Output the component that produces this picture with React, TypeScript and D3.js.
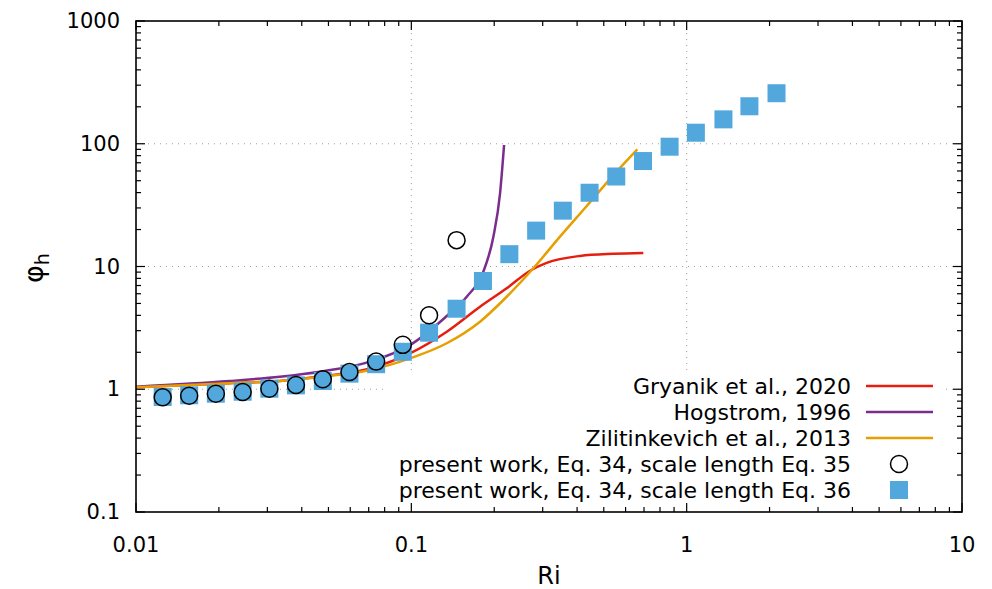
import React from "react";
import * as d3 from "d3";

// values
const riSquares = [0.0125, 0.0156, 0.0195, 0.0244, 0.0305, 0.0381, 0.0477, 0.0596, 0.0745, 0.0931, 0.116, 0.146, 0.182, 0.227, 0.284, 0.355, 0.444, 0.555, 0.694, 0.867, 1.08, 1.36, 1.69, 2.12];
const phiSquares = [0.865, 0.893, 0.92, 0.955, 1.01, 1.076, 1.167, 1.34, 1.6, 2.02, 2.89, 4.53, 7.62, 12.6, 19.6, 28.5, 39.9, 54.1, 72.3, 94.6, 123, 158, 202, 258];

const riCircles = [0.0125, 0.0156, 0.0195, 0.0244, 0.0305, 0.0381, 0.0477, 0.0596, 0.0745, 0.0931, 0.116, 0.146];
const phiCircles = [0.86, 0.886, 0.92, 0.95, 1.01, 1.084, 1.205, 1.38, 1.68, 2.3, 4.01, 16.4];

const gryanikRi = [0.01, 0.0219, 0.0333, 0.0466, 0.0708, 0.0989, 0.1345, 0.1776, 0.222, 0.27, 0.31, 0.41, 0.542, 0.696];
const gryanikPhi = [1.04, 1.12, 1.17, 1.27, 1.48, 1.96, 2.94, 4.7, 6.64, 9.24, 10.7, 12.2, 12.7, 12.9];

const hogstromRi = [0.01, 0.0219, 0.0333, 0.0466, 0.0708, 0.0989, 0.1345, 0.1589, 0.1826, 0.1986, 0.21, 0.2172];
const hogstromPhi = [1.05, 1.167, 1.265, 1.39, 1.68, 2.29, 3.95, 5.67, 9.07, 17.5, 39.5, 97.7];

const zilitRi = [0.01, 0.0219, 0.0333, 0.0466, 0.0708, 0.1, 0.1345, 0.1776, 0.222, 0.2774, 0.3467, 0.4335, 0.542, 0.662];
const zilitPhi = [1.04, 1.12, 1.17, 1.26, 1.435, 1.8, 2.37, 3.55, 5.67, 9.67, 17.5, 31.1, 55.6, 90.1];

const xTickLabels = ["0.01", "0.1", "1", "10"];
const yTickLabels = ["0.1", "1", "10", "100", "1000"];

const legendLabels = [
  "Gryanik et al., 2020",
  "Hogstrom, 1996",
  "Zilitinkevich et al., 2013",
  "present work, Eq. 34, scale length Eq. 35",
  "present work, Eq. 34, scale length Eq. 36",
];

const W = 992;
const H = 589;
const left = 136, right = 962, top = 21, bottom = 512;
const font = "DejaVu Sans, sans-serif";
const RED = "#e51e10";
const PURPLE = "#7b2d8e";
const ORANGE = "#e69f00";
const BLUE = "#52a8dc";

export default function App() {
  const x = d3.scaleLog().domain([0.01, 10]).range([left, right]);
  const y = d3.scaleLog().domain([0.1, 1000]).range([bottom, top]);

  const isMajor = (v: number) => Math.abs(Math.log10(v) - Math.round(Math.log10(v))) < 1e-6;
  const xTicks = x.ticks();
  const yTicks = y.ticks();

  const line = d3
    .line<[number, number]>()
    .x((d) => x(d[0]))
    .y((d) => y(d[1]))
    .curve(d3.curveMonotoneX);

  const zip = (a: number[], b: number[]) => a.map((v, i) => [v, b[i]] as [number, number]);

  const curves = [
    { ri: gryanikRi, phi: gryanikPhi, color: RED },
    { ri: hogstromRi, phi: hogstromPhi, color: PURPLE },
    { ri: zilitRi, phi: zilitPhi, color: ORANGE },
  ];

  const sq = 18;
  const legX = 851;
  const legY0 = 386;
  const legDy = 26;

  return (
    <div style={{ position: "absolute", left: 0, top: 0 }}>
      <svg width={W} height={H} style={{ display: "block", background: "#fff" }}>
        {/* grid */}
        <g stroke="#a0a0a0" strokeWidth={1} strokeDasharray="1,5">
          {xTicks.filter(isMajor).filter((v) => v > 0.01 && v < 10).map((v, i) => (
            <line key={"gx" + i} x1={x(v)} x2={x(v)} y1={top} y2={bottom} />
          ))}
          {yTicks.filter(isMajor).filter((v) => v > 0.1 && v < 1000).map((v, i) => (
            <line key={"gy" + i} x1={left} x2={right} y1={y(v)} y2={y(v)} />
          ))}
        </g>
        {/* opaque key */}
        <rect x={388} y={373} width={557} height={130} fill="#fff" />

        {curves.map((c, i) => (
          <path key={"c" + i} d={line(zip(c.ri, c.phi)) || ""} fill="none" stroke={c.color} strokeWidth={2.5} />
        ))}

        {riSquares.map((r, i) => (
          <rect key={"s" + i} x={x(r) - sq / 2} y={y(phiSquares[i]) - sq / 2} width={sq} height={sq} fill={BLUE} />
        ))}
        {riCircles.map((r, i) => (
          <circle key={"o" + i} cx={x(r)} cy={y(phiCircles[i])} r={8.5} fill="none" stroke="#000" strokeWidth={1.5} />
        ))}

        {/* legend */}
        <g fontFamily={font} fontSize={22} fill="#000">
          {legendLabels.map((t, i) => (
            <text key={"l" + i} x={legX} y={legY0 + i * legDy} textAnchor="end" dominantBaseline="central">
              {t}
            </text>
          ))}
        </g>
        {curves.map((c, i) => (
          <line key={"ll" + i} x1={866} x2={933} y1={legY0 + i * legDy} y2={legY0 + i * legDy} stroke={c.color} strokeWidth={2.5} />
        ))}
        <circle cx={899} cy={legY0 + 3 * legDy} r={8.5} fill="none" stroke="#000" strokeWidth={1.5} />
        <rect x={899 - sq / 2} y={legY0 + 4 * legDy - sq / 2} width={sq} height={sq} fill={BLUE} />

        {/* ticks */}
        <g stroke="#000" strokeWidth={1.2}>
          {xTicks.map((v, i) => {
            const len = isMajor(v) ? 9 : 5;
            return (
              <g key={"tx" + i}>
                <line x1={x(v)} x2={x(v)} y1={bottom} y2={bottom - len} />
                <line x1={x(v)} x2={x(v)} y1={top} y2={top + len} />
              </g>
            );
          })}
          {yTicks.map((v, i) => {
            const len = isMajor(v) ? 9 : 5;
            return (
              <g key={"ty" + i}>
                <line x1={left} x2={left + len} y1={y(v)} y2={y(v)} />
                <line x1={right} x2={right - len} y1={y(v)} y2={y(v)} />
              </g>
            );
          })}
        </g>
        <rect x={left} y={top} width={right - left} height={bottom - top} fill="none" stroke="#000" strokeWidth={1.6} />

        {/* tick labels */}
        <g fontFamily={font} fontSize={21} fill="#000">
          {xTickLabels.map((t) => (
            <text key={"xl" + t} x={x(+t)} y={545} textAnchor="middle" dominantBaseline="central">
              {t}
            </text>
          ))}
          {yTickLabels.map((t) => (
            <text key={"yl" + t} x={120} y={y(+t)} textAnchor="end" dominantBaseline="central">
              {t}
            </text>
          ))}
        </g>

        {/* axis titles */}
        <text x={549} y={584} fontFamily={font} fontSize={24} textAnchor="middle">
          Ri
        </text>
        <text transform="translate(43,268) rotate(-90)" fontFamily={font} fontSize={27} textAnchor="middle">
          <tspan>φ</tspan>
          <tspan fontSize={19} dy={6}>h</tspan>
        </text>
      </svg>
    </div>
  );
}
